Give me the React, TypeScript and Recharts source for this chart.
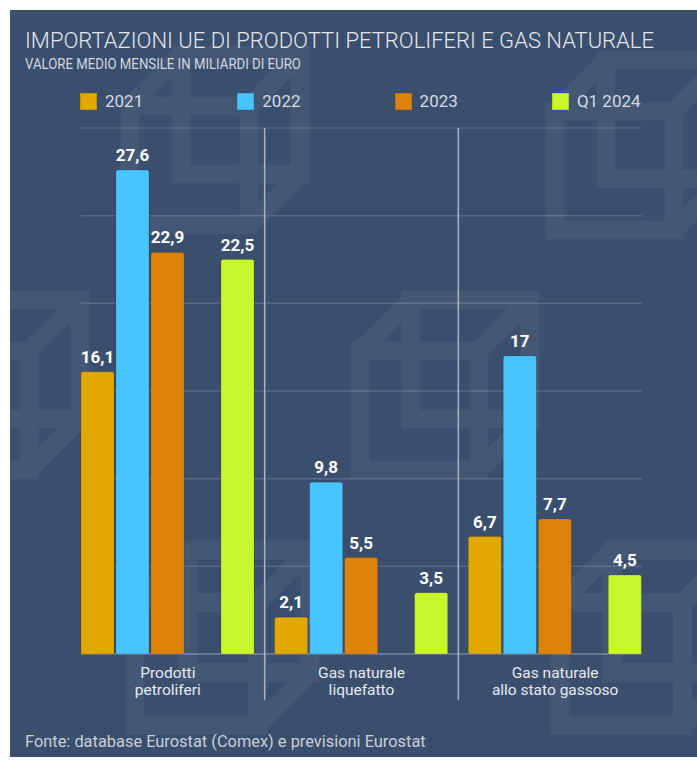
import React from 'react';
import { BarChart, Bar, XAxis, YAxis, CartesianGrid, LabelList } from 'recharts';

const CATEGORIES = ['Prodotti\npetroliferi', 'Gas naturale\nliquefatto', 'Gas naturale\nallo stato gassoso'];
const VALUES_2021 = [16.1, 2.1, 6.7];
const VALUES_2022 = [27.6, 9.8, 17];
const VALUES_2023 = [22.9, 5.5, 7.7];
const VALUES_Q1_2024 = [22.5, 3.5, 4.5];
const Y_TICKS = [0, 5, 10, 15, 20, 25, 30];

const SERIES = [
  { key: 'y2021', name: '2021', color: '#e0a800', values: VALUES_2021 },
  { key: 'y2022', name: '2022', color: '#48c4ff', values: VALUES_2022 },
  { key: 'y2023', name: '2023', color: '#dd830b', values: VALUES_2023 },
  { key: 'q12024', name: 'Q1 2024', color: '#c9f72e', values: VALUES_Q1_2024 },
];

const data = CATEGORIES.map((cat, i) => {
  const row: Record<string, string | number> = { cat };
  SERIES.forEach((s) => { row[s.key] = s.values[i]; });
  return row;
});

const FONT = 'Roboto, sans-serif';
const BG = '#3a4f6e';
const W = 687;
const H = 747;
const CHART_H = 720;
const M = { top: 118, left: 61, right: 45, bottom: 16 };
const AXIS_H = 60;
const PLOT_W = W - M.left - M.right;
const PLOT_H = CHART_H - M.top - M.bottom - AXIS_H;
const BAND = PLOT_W / CATEGORIES.length;
const INSET = 10;

const fmt = (v: number) => String(v).replace('.', ',');

// faint cube logos in the background
const cube = (x: number, y: number, s: number) => {
  const o = s * 0.3;
  const a = s * 0.7;
  return `M${x + o},${y} h${a} v${a} h${-a} Z M${x},${y + o} h${a} v${a} h${-a} Z ` +
    `M${x},${y + o} L${x + o},${y} M${x + a},${y + o} L${x + s},${y} M${x + a},${y + s} L${x + s},${y + a}`;
};
const LOGOS = [
  [120, 45, 170], [545, 50, 170], [350, 290, 170], [-100, 290, 170], [125, 540, 175], [550, 540, 175],
];

const CategoryTick = ({ x, y, payload, index }: any) => {
  const lines = String(payload.value).split('\n');
  return (
    <g>
      {lines.map((l, i) => (
        <text key={i} x={x} y={y + 24 + i * 17} textAnchor="middle" fill="#e6e9ee" fontSize={15.5} fontFamily={FONT}>
          {l}
        </text>
      ))}
      {index < CATEGORIES.length - 1 && (
        <line x1={x + BAND / 2} x2={x + BAND / 2} y1={y - PLOT_H} y2={y + 46} stroke="#aab3c2" strokeWidth={1.5} />
      )}
    </g>
  );
};

const GridLine = (p: any) => (
  <line
    key={p.key}
    x1={p.x1 + INSET}
    x2={p.x2 - INSET}
    y1={p.y1}
    y2={p.y2}
    stroke={Math.abs(p.y1 - (M.top + PLOT_H)) < 1 ? 'rgba(255,255,255,0.3)' : 'rgba(255,255,255,0.15)'}
    strokeWidth={1.5}
  />
);

const labelProps = { position: 'top' as const, offset: 9, fill: '#ffffff', fontSize: 17, fontWeight: 700, fontFamily: FONT };

export default function App() {
  return (
    <div style={{ position: 'absolute', left: 10, top: 10, width: W, height: H, background: BG, overflow: 'hidden', fontFamily: FONT }}>
      <svg width={W} height={H} style={{ position: 'absolute', left: 0, top: 0 }}>
        {LOGOS.map(([x, y, s], i) => (
          <path key={i} d={cube(x, y, s)} fill="none" stroke="#ffffff" strokeOpacity={0.055} strokeWidth={s * 0.11} />
        ))}
      </svg>
      <div style={{ position: 'absolute', left: 15, top: 18, fontSize: 22, fontWeight: 300, color: '#e3e6eb', whiteSpace: 'nowrap', lineHeight: '26px' }}>
        IMPORTAZIONI UE DI PRODOTTI PETROLIFERI E GAS NATURALE
      </div>
      <div style={{ position: 'absolute', left: 15, top: 45, fontSize: 15, color: '#d2d6de', whiteSpace: 'nowrap', lineHeight: '18px', transform: 'scaleX(0.88)', transformOrigin: 'left center' }}>
        VALORE MEDIO MENSILE IN MILIARDI DI EURO
      </div>
      <div style={{ position: 'absolute', left: 70, top: 81, display: 'flex' }}>
        {SERIES.map((s) => (
          <div key={s.key} style={{ width: 157.3, display: 'flex', alignItems: 'center', gap: 8 }}>
            <div style={{ width: 17, height: 17, background: s.color, border: '1px solid rgba(0,0,0,0.12)', boxSizing: 'border-box' }} />
            <span style={{ fontSize: 17, color: '#d6dae1', lineHeight: '20px' }}>{s.name}</span>
          </div>
        ))}
      </div>
      <div style={{ position: 'absolute', left: 0, top: 0 }}>
        <BarChart width={W} height={CHART_H} data={data} margin={M} barCategoryGap={INSET} barGap={2}>
          <CartesianGrid vertical={false} horizontal={GridLine} />
          <YAxis hide domain={[0, 30]} ticks={Y_TICKS} />
          <XAxis
            dataKey="cat"
            height={AXIS_H}
            axisLine={false}
            tickLine={false}
            tickSize={0}
            tickMargin={0}
            interval={0}
            tick={<CategoryTick />}
          />
          {SERIES.slice(0, 3).map((s) => (
            <Bar key={s.key} dataKey={s.key} name={s.name} fill={s.color} stroke="rgba(0,0,0,0.12)" radius={[2, 2, 0, 0]} isAnimationActive={false}>
              <LabelList dataKey={s.key} formatter={(v: any) => fmt(v)} {...labelProps} />
            </Bar>
          ))}
          {/* empty slot between 2023 and Q1 2024 */}
          <Bar dataKey="slot" legendType="none" fill="none" isAnimationActive={false} />
          <Bar dataKey={SERIES[3].key} name={SERIES[3].name} fill={SERIES[3].color} stroke="rgba(0,0,0,0.12)" radius={[2, 2, 0, 0]} isAnimationActive={false}>
            <LabelList dataKey={SERIES[3].key} formatter={(v: any) => fmt(v)} {...labelProps} />
          </Bar>
        </BarChart>
      </div>
      <div style={{ position: 'absolute', left: 15, top: 722, fontSize: 16.4, color: '#c9ced6', whiteSpace: 'nowrap', lineHeight: '20px' }}>
        Fonte: database Eurostat (Comex) e previsioni Eurostat
      </div>
    </div>
  );
}
